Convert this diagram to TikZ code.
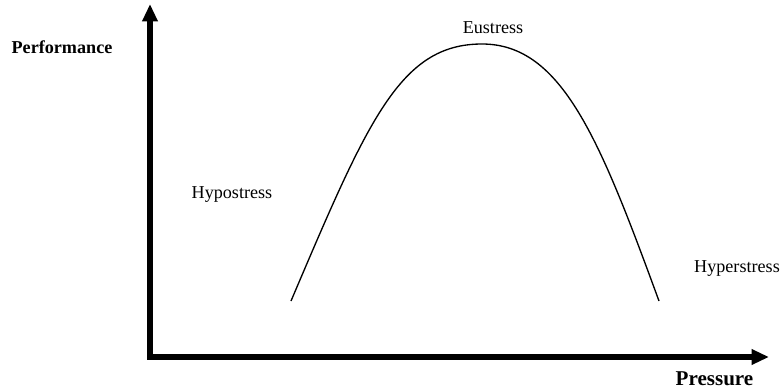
\documentclass[tikz,border=0pt]{standalone}
\usepackage{fontspec}
\setmainfont{Liberation Serif}
\usetikzlibrary{arrows.meta}
\tikzset{
	axisline/.style={-{Triangle[length=13pt, width=11pt]}, line width=4.2pt},
	curveline/.style={line width=1pt},
	axislabel/.style={font=\fontsize{13.6}{16}\selectfont\bfseries, anchor=base, inner sep=0pt},
	zonelabel/.style={font=\fontsize{13.6}{16}\selectfont, anchor=base, inner sep=0pt}
}
\begin{document}
\begin{tikzpicture}[x=0.75pt, y=-0.75pt]
	\useasboundingbox (0,0) rectangle (782,389);
	
	%% -- Axes
	\coordinate (origin) at (150,357);
	\coordinate (ytip) at (150,4);
	\coordinate (xtip) at (769,357);
	\draw[axisline] ([yshift=-2.1pt]origin) -- (ytip);
	\draw[axisline] ([xshift=-2.1pt]origin) -- (xtip);
	
	\node[axislabel] (perf) at (62,53) {Performance};
	\node[axislabel, font=\fontsize{15.8}{18}\selectfont\bfseries] (press) at (714.5,385) {Pressure};
	
	%% -- Stress curve
	\coordinate (lowstart) at (291,301);
	\coordinate (peak) at (482,44);
	\coordinate (lowend) at (659,301);
	\draw[curveline] (lowstart) .. controls (368,120) and (400,44) .. (peak)
		.. controls (562,44) and (600,140) .. (lowend);
	
	%% -- Zone labels
	\node[zonelabel] (eu) at (493,33) {Eustress};
	\node[zonelabel] (hypo) at (232,198) {Hypostress};
	\node[zonelabel] (hyper) at (737,272) {Hyperstress};
\end{tikzpicture}
\end{document}
